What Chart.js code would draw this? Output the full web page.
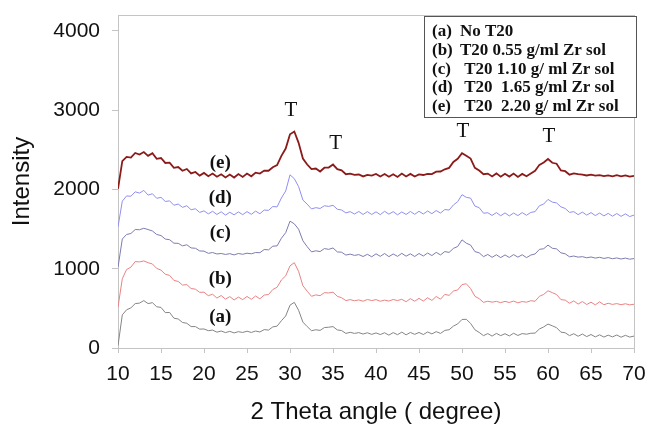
<!DOCTYPE html>
<html>
<head>
<meta charset="utf-8">
<title>XRD patterns</title>
<script src="https://cdn.jsdelivr.net/npm/chart.js@4.4.1/dist/chart.umd.min.js"></script>
<style>
  html, body { margin: 0; padding: 0; background: #ffffff; }
  #wrap { position: relative; width: 649px; height: 424px; }
</style>
</head>
<body>
<div id="wrap"><canvas id="xrd-chart"></canvas></div>
<script>
// 2θ sampling grid: 10° to 70° in 0.5° steps
const twoTheta = Array.from({ length: 121 }, (_, i) => 10 + i * 0.5);

// (a) No T20
const seriesA = [
  30, 418, 482, 506, 560, 566, 598, 560, 572, 520,
  512, 446, 448, 376, 366, 322, 312, 270, 270, 238,
  240, 218, 226, 200, 214, 194, 210, 190, 206, 196,
  212, 196, 214, 202, 232, 226, 266, 276, 344, 404,
  540, 576, 476, 326, 270, 218, 230, 222, 258, 262,
  270, 228, 220, 184, 198, 184, 194, 176, 192, 172,
  190, 170, 192, 162, 194, 168, 200, 166, 196, 172,
  196, 170, 202, 178, 206, 184, 222, 230, 276, 304,
  360, 362, 310, 230, 196, 156, 182, 150, 184, 156,
  180, 152, 186, 158, 182, 174, 186, 188, 240, 266,
  302, 280, 256, 200, 192, 156, 180, 148, 176, 144,
  170, 140, 166, 138, 162, 140, 164, 136, 160, 138,
  150
];

// (b) T20 0.55 g/ml
const seriesB = [
  515, 874, 990, 1020, 1090, 1086, 1098, 1076, 1060, 1004,
  982, 930, 916, 852, 840, 794, 800, 750, 742, 702,
  704, 660, 678, 630, 662, 616, 648, 606, 642, 610,
  650, 614, 656, 620, 668, 674, 738, 766, 858, 910,
  1036, 1076, 966, 786, 716, 652, 670, 660, 698, 694,
  704, 652, 634, 598, 610, 596, 606, 590, 612, 598,
  610, 590, 604, 592, 612, 598, 614, 584, 622, 590,
  626, 592, 634, 600, 650, 616, 676, 664, 718, 732,
  800, 810, 750, 652, 622, 576, 590, 578, 588, 572,
  588, 574, 592, 570, 586, 578, 596, 590, 652, 676,
  722, 698, 674, 610, 604, 564, 594, 554, 586, 548,
  578, 544, 582, 546, 564, 550, 560, 546, 558, 544,
  552
];

// (c) T20 1.10 g/ml
const seriesC = [
  1018, 1374, 1432, 1444, 1494, 1492, 1510, 1494, 1476, 1432,
  1418, 1374, 1366, 1322, 1320, 1288, 1302, 1262, 1258, 1224,
  1222, 1194, 1204, 1186, 1192, 1180, 1190, 1174, 1192, 1182,
  1196, 1188, 1204, 1202, 1242, 1238, 1284, 1288, 1384, 1454,
  1600, 1566, 1498, 1352, 1278, 1212, 1226, 1216, 1254, 1244,
  1262, 1212, 1208, 1172, 1184, 1168, 1178, 1154, 1182, 1150,
  1188, 1156, 1192, 1152, 1186, 1156, 1194, 1158, 1188, 1154,
  1192, 1160, 1198, 1166, 1206, 1174, 1216, 1206, 1256, 1280,
  1364, 1322, 1298, 1216, 1200, 1152, 1180, 1144, 1176, 1140,
  1174, 1142, 1178, 1146, 1176, 1140, 1172, 1186, 1244, 1252,
  1298, 1258, 1250, 1200, 1188, 1150, 1160, 1146, 1152, 1138,
  1148, 1134, 1144, 1130, 1140, 1126, 1136, 1122, 1134, 1120,
  1128
];

// (d) T20 1.65 g/ml
const seriesD = [
  1528, 1852, 1918, 1914, 1970, 1954, 1988, 1928, 1946, 1888,
  1900, 1848, 1856, 1800, 1816, 1774, 1794, 1744, 1756, 1710,
  1730, 1692, 1724, 1684, 1718, 1676, 1712, 1680, 1716, 1682,
  1720, 1686, 1726, 1694, 1740, 1736, 1784, 1780, 1892, 1980,
  2184, 2136, 2036, 1866, 1814, 1754, 1770, 1760, 1794, 1786,
  1800, 1750, 1740, 1704, 1720, 1690, 1722, 1684, 1720, 1684,
  1718, 1682, 1724, 1688, 1720, 1680, 1716, 1684, 1722, 1686,
  1724, 1690, 1728, 1694, 1734, 1702, 1746, 1740, 1804, 1846,
  1934, 1900, 1890, 1790, 1770, 1700, 1706, 1672, 1708, 1668,
  1704, 1666, 1702, 1670, 1708, 1674, 1710, 1720, 1794, 1816,
  1874, 1840, 1830, 1780, 1760, 1710, 1720, 1682, 1714, 1676,
  1708, 1670, 1702, 1666, 1698, 1662, 1696, 1660, 1692, 1658,
  1676
];

// (e) T20 2.20 g/ml
const seriesE = [
  2008, 2356, 2410, 2402, 2460, 2440, 2472, 2424, 2456, 2386,
  2396, 2334, 2338, 2272, 2282, 2236, 2258, 2202, 2220, 2174,
  2208, 2166, 2200, 2160, 2192, 2152, 2188, 2150, 2194, 2158,
  2200, 2166, 2212, 2200, 2238, 2236, 2280, 2306, 2424, 2516,
  2696, 2730, 2588, 2390, 2314, 2256, 2264, 2226, 2274, 2276,
  2314, 2256, 2240, 2192, 2198, 2184, 2188, 2164, 2184, 2174,
  2196, 2164, 2194, 2160, 2192, 2158, 2200, 2164, 2196, 2162,
  2190, 2182, 2196, 2194, 2224, 2226, 2254, 2272, 2346, 2386,
  2456, 2424, 2390, 2272, 2238, 2192, 2200, 2164, 2202, 2160,
  2198, 2162, 2200, 2158, 2196, 2166, 2200, 2234, 2310, 2340,
  2384, 2336, 2324, 2240, 2230, 2186, 2202, 2192, 2188, 2176,
  2186, 2174, 2180, 2168, 2178, 2166, 2180, 2164, 2176, 2162,
  2170
];

const yTickValues = [0, 1000, 2000, 3000, 4000];

const seriesTags = ["(a)", "(b)", "(c)", "(d)", "(e)"];
const legendLines = [
  ["(a)", "No T20"],
  ["(b)", "T20 0.55 g/ml Zr sol"],
  ["(c)", " T20 1.10 g/ ml Zr sol"],
  ["(d)", " T20  1.65 g/ml Zr sol"],
  ["(e)", " T20  2.20 g/ ml Zr sol"],
];

// where the (a)..(e) tags sit, in data units
const tagAngle = 21.9;
const tagIntensity = [390, 865, 1445, 1890, 2330];

// phase markers "T" above the reflections
const peakAngles = [30.1, 35.3, 50.1, 60.1];
const peakLabelIntensity = [3000, 2585, 2725, 2665];

function toPoints(values) {
  return values.map(function (v, i) {
    return { x: twoTheta[i], y: v };
  });
}

// frame, text labels and the boxed key
const overlayPlugin = {
  id: "overlay",
  beforeDatasetsDraw(chart) {
    const { ctx, chartArea } = chart;
    ctx.save();
    ctx.strokeStyle = "#c4c4c4";
    ctx.lineWidth = 1;
    ctx.strokeRect(chartArea.left + 0.5, chartArea.top + 0.5,
      chartArea.right - chartArea.left, chartArea.bottom - chartArea.top);
    ctx.restore();
  },
  afterDraw(chart) {
    const { ctx, scales } = chart;
    const x = scales.x;
    const y = scales.y;
    ctx.save();
    ctx.fillStyle = "#111";
    ctx.textAlign = "center";
    ctx.textBaseline = "middle";

    ctx.font = "bold 19px 'Liberation Serif', serif";
    seriesTags.forEach(function (tag, i) {
      ctx.fillText(tag, x.getPixelForValue(tagAngle), y.getPixelForValue(tagIntensity[i]));
    });

    ctx.font = "21px 'Liberation Serif', serif";
    peakAngles.forEach(function (a, i) {
      ctx.fillText("T", x.getPixelForValue(a), y.getPixelForValue(peakLabelIntensity[i]));
    });

    // key box
    ctx.fillStyle = "#ffffff";
    ctx.fillRect(424, 16, 212, 101);
    ctx.strokeStyle = "#555";
    ctx.lineWidth = 1;
    ctx.strokeRect(424.5, 16.5, 212, 101);
    ctx.fillStyle = "#111";
    ctx.textAlign = "left";
    ctx.font = "bold 17px 'Liberation Serif', serif";
    legendLines.forEach(function (line, i) {
      const ly = 32 + i * 18.6;
      ctx.fillText(line[0], 432, ly);
      ctx.fillText(line[1], 460, ly);
    });
    ctx.restore();
  },
};

const ctx = document.getElementById("xrd-chart").getContext("2d");

new Chart(ctx, {
  type: "line",
  data: {
    datasets: [
      { label: "(e)", data: toPoints(seriesE), borderColor: "#8b1a1a", borderWidth: 1.8 },
      { label: "(d)", data: toPoints(seriesD), borderColor: "#8f8ff0", borderWidth: 1 },
      { label: "(c)", data: toPoints(seriesC), borderColor: "#7c7cb0", borderWidth: 1 },
      { label: "(b)", data: toPoints(seriesB), borderColor: "#ea8282", borderWidth: 1 },
      { label: "(a)", data: toPoints(seriesA), borderColor: "#858585", borderWidth: 1 },
    ],
  },
  options: {
    responsive: true,
    maintainAspectRatio: false,
    animation: false,
    elements: {
      point: { radius: 0 },
      line: { tension: 0, fill: false },
    },
    layout: { padding: { top: 15, right: 15, bottom: 0, left: 0 } },
    plugins: {
      legend: { display: false },
      tooltip: { enabled: false },
    },
    scales: {
      x: {
        type: "linear",
        min: 10,
        max: 70,
        afterFit: function (scale) {
          scale.height = 76;
          scale.paddingLeft = 0;
          scale.paddingRight = 0;
        },
        ticks: {
          stepSize: 5,
          padding: 9,
          color: "#111",
          font: { family: "'Liberation Sans', Arial, sans-serif", size: 21 },
          maxRotation: 0,
        },
        grid: { drawOnChartArea: false, drawTicks: true, tickLength: 5, color: "#c4c4c4" },
        border: { color: "#c4c4c4" },
        title: {
          display: true,
          text: "2 Theta angle ( degree)",
          color: "#111",
          padding: { top: 0, bottom: 0 },
          font: { family: "'Liberation Sans', Arial, sans-serif", size: 24, lineHeight: 1 },
        },
      },
      y: {
        min: 0,
        max: 4200,
        afterBuildTicks: function (scale) {
          scale.ticks = yTickValues.map(function (v) { return { value: v }; });
        },
        afterFit: function (scale) {
          scale.width = 118;
          scale.paddingTop = 0;
          scale.paddingBottom = 0;
        },
        ticks: {
          padding: 12,
          color: "#111",
          font: { family: "'Liberation Sans', Arial, sans-serif", size: 21 },
          callback: function (value) { return String(value); },
        },
        grid: { drawOnChartArea: false, drawTicks: true, tickLength: 6, color: "#c4c4c4" },
        border: { color: "#c4c4c4" },
        title: {
          display: true,
          text: "Intensity",
          color: "#111",
          padding: { top: 8, bottom: 0 },
          font: { family: "'Liberation Sans', Arial, sans-serif", size: 24, lineHeight: 1.2 },
        },
      },
    },
  },
  plugins: [overlayPlugin],
});
</script>
</body>
</html>
